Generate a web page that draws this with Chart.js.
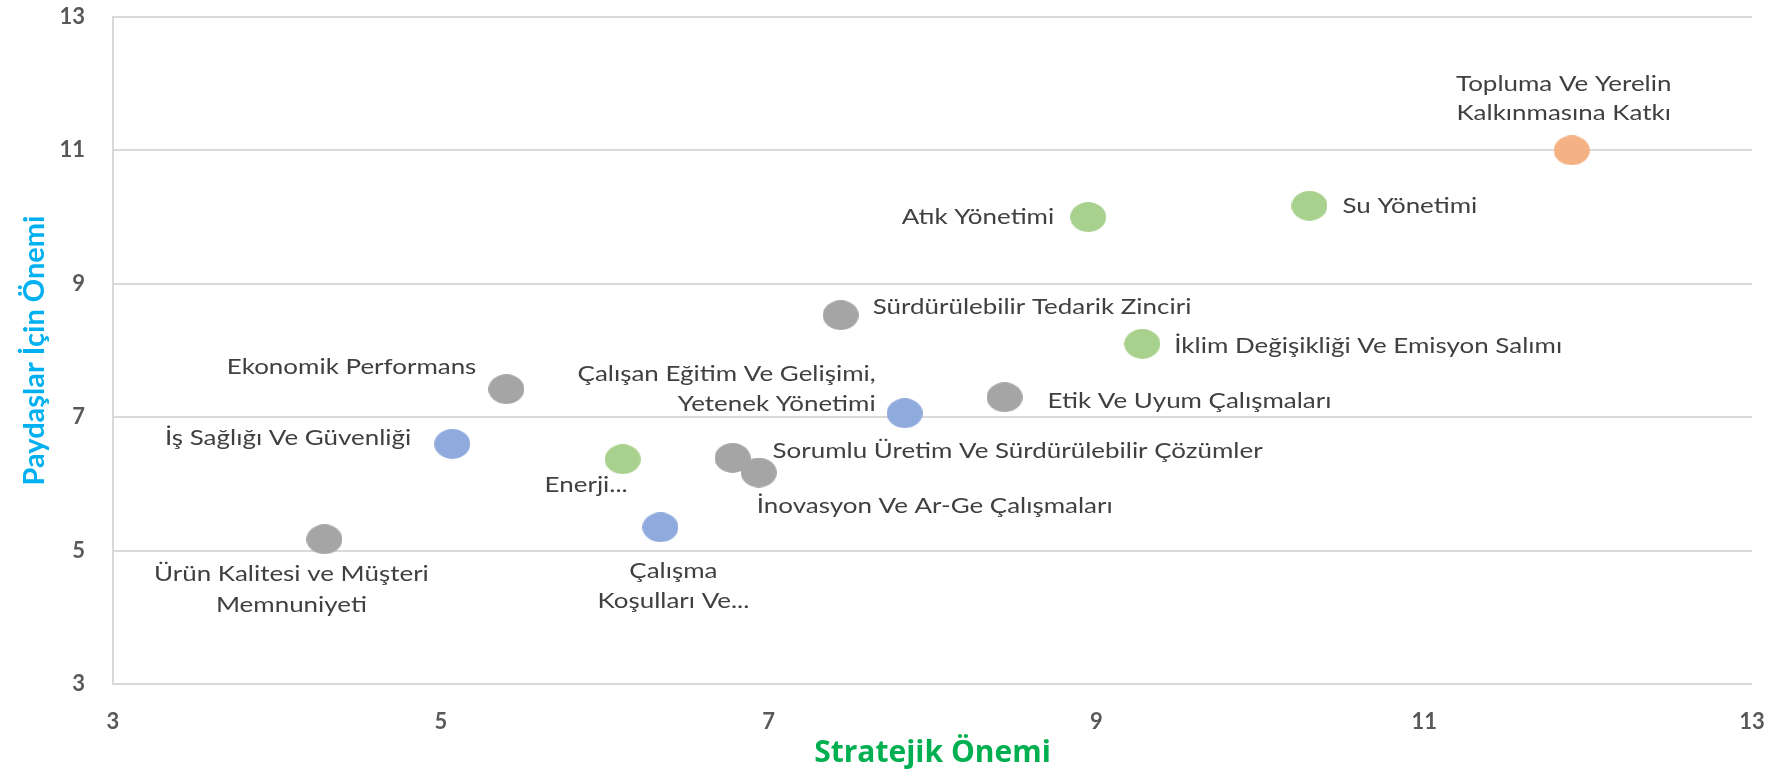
<!DOCTYPE html>
<html>
<head>
<meta charset="utf-8">
<script src="https://cdn.jsdelivr.net/npm/chart.js@4.4.1/dist/chart.umd.min.js"></script>
<style>
  html, body { margin: 0; padding: 0; background: #fff; }
  #wrap { width: 1789px; height: 771px; }
</style>
</head>
<body>
<div id="wrap"><canvas id="materiality"></canvas></div>
<script>
const topics = [
  ['Topluma Ve Yerelin', 'Kalkınmasına Katkı'],
  ['Su Yönetimi'],
  ['Atık Yönetimi'],
  ['Sürdürülebilir Tedarik Zinciri'],
  ['İklim Değişikliği Ve Emisyon Salımı'],
  ['Ekonomik Performans'],
  ['Etik Ve Uyum Çalışmaları'],
  ['Çalışan Eğitim Ve Gelişimi,', 'Yetenek Yönetimi'],
  ['İş Sağlığı Ve Güvenliği'],
  ['Enerji...'],
  ['Sorumlu Üretim Ve Sürdürülebilir Çözümler'],
  ['İnovasyon Ve Ar-Ge Çalışmaları'],
  ['Çalışma', 'Koşulları Ve...'],
  ['Ürün Kalitesi ve Müşteri', 'Memnuniyeti']
];
const strategicScores = [11.9, 10.3, 8.95, 7.44, 9.28, 5.4, 8.44, 7.83, 5.07, 6.11, 6.78, 6.94, 6.34, 4.29];
const stakeholderScores = [11.0, 10.17, 10.0, 8.53, 8.1, 7.42, 7.3, 7.06, 6.6, 6.37, 6.39, 6.17, 5.35, 5.17];
const topicGroups = ['community', 'environment', 'environment', 'governance', 'environment', 'governance',
  'governance', 'people', 'people', 'environment', 'governance', 'governance', 'people', 'governance'];
const axisTicks = [3, 5, 7, 9, 11, 13];

const groupColors = {
  community: '#F4B183',
  environment: '#A9D18E',
  governance: '#A5A5A5',
  people: '#8FAADC'
};

// where each label sits relative to its dot (px): side alignment + offsets per line
const labelPlacement = [
  { align: 'center', dx: -8, dy: [-66, -37] },
  { align: 'left', dx: 33, dy: [0] },
  { align: 'right', dx: -34, dy: [0] },
  { align: 'left', dx: 32, dy: [-8] },
  { align: 'left', dx: 32, dy: [2] },
  { align: 'right', dx: -30, dy: [-22] },
  { align: 'left', dx: 43, dy: [4] },
  { align: 'right', dx: -29, dy: [-39, -9] },
  { align: 'right', dx: -41, dy: [-6] },
  { align: 'right', dx: 5, dy: [26] },
  { align: 'left', dx: 40, dy: [-7] },
  { align: 'left', dx: -2, dy: [33] },
  { align: 'center', dx: 13, dy: [44, 74] },
  { align: 'center', dx: -33, dy: [35, 66] }
];
const LABEL_STRETCH = 1.18;

const makeDot = (color) => {
  const c = document.createElement('canvas');
  c.width = 36;
  c.height = 30;
  const g = c.getContext('2d');
  g.fillStyle = color;
  g.beginPath();
  g.ellipse(18, 15, 18, 15, 0, 0, Math.PI * 2);
  g.fill();
  return c;
};
const dots = {};
Object.keys(groupColors).forEach((k) => { dots[k] = makeDot(groupColors[k]); });

const pointLabels = {
  id: 'pointLabels',
  afterDatasetsDraw(chart) {
    const { ctx } = chart;
    const meta = chart.getDatasetMeta(0);
    ctx.save();
    ctx.font = '22px Lato';
    ctx.fillStyle = '#404040';
    ctx.textBaseline = 'middle';
    meta.data.forEach((pt, i) => {
      const place = labelPlacement[i];
      ctx.textAlign = place.align;
      topics[i].forEach((line, j) => {
        ctx.save();
        ctx.translate(pt.x + place.dx, pt.y + place.dy[j]);
        ctx.scale(LABEL_STRETCH, 1);
        ctx.fillText(line, 0, 0);
        ctx.restore();
      });
    });
    ctx.restore();
  }
};

const tickFont = { family: 'Lato', size: 22, weight: 'bold' };

new Chart(document.getElementById('materiality'), {
  type: 'scatter',
  data: {
    datasets: [{
      data: strategicScores.map((x, i) => ({ x, y: stakeholderScores[i] })),
      pointStyle: (ctx) => dots[topicGroups[ctx.dataIndex]],
      pointRadius: 16,
      pointHoverRadius: 16
    }]
  },
  options: {
    responsive: true,
    maintainAspectRatio: false,
    animation: false,
    events: [],
    layout: { padding: { top: 15, right: 37, left: 0, bottom: 0 } },
    plugins: { legend: { display: false }, tooltip: { enabled: false } },
    scales: {
      x: {
        min: 3,
        max: 13,
        afterBuildTicks: (scale) => { scale.ticks = axisTicks.map((v) => ({ value: v })); },
        afterFit: (scale) => { scale.height = 87; },
        grid: { display: false },
        border: { display: false },
        ticks: { color: '#595959', font: tickFont, padding: 17 },
        title: {
          display: true,
          text: 'Stratejik Önemi',
          color: '#00B050',
          font: { family: 'Open Sans', size: 30, weight: 'bold' },
          padding: { top: 0, bottom: 0 }
        }
      },
      y: {
        min: 3,
        max: 13,
        afterBuildTicks: (scale) => { scale.ticks = axisTicks.map((v) => ({ value: v })); },
        afterFit: (scale) => {
          scale.width = 113;
          scale.paddingTop = 0;
          scale.paddingBottom = 0;
        },
        grid: { color: '#D9D9D9', lineWidth: 2, drawTicks: false },
        border: { display: true, color: '#D9D9D9', width: 2 },
        ticks: { color: '#595959', font: tickFont, padding: 28 },
        title: {
          display: true,
          text: 'Paydaşlar İçin Önemi',
          color: '#00B0F0',
          font: { family: 'Lato', size: 29, weight: 'bold' },
          padding: { top: 17, bottom: 0 }
        }
      }
    }
  },
  plugins: [pointLabels]
});
</script>
</body>
</html>
